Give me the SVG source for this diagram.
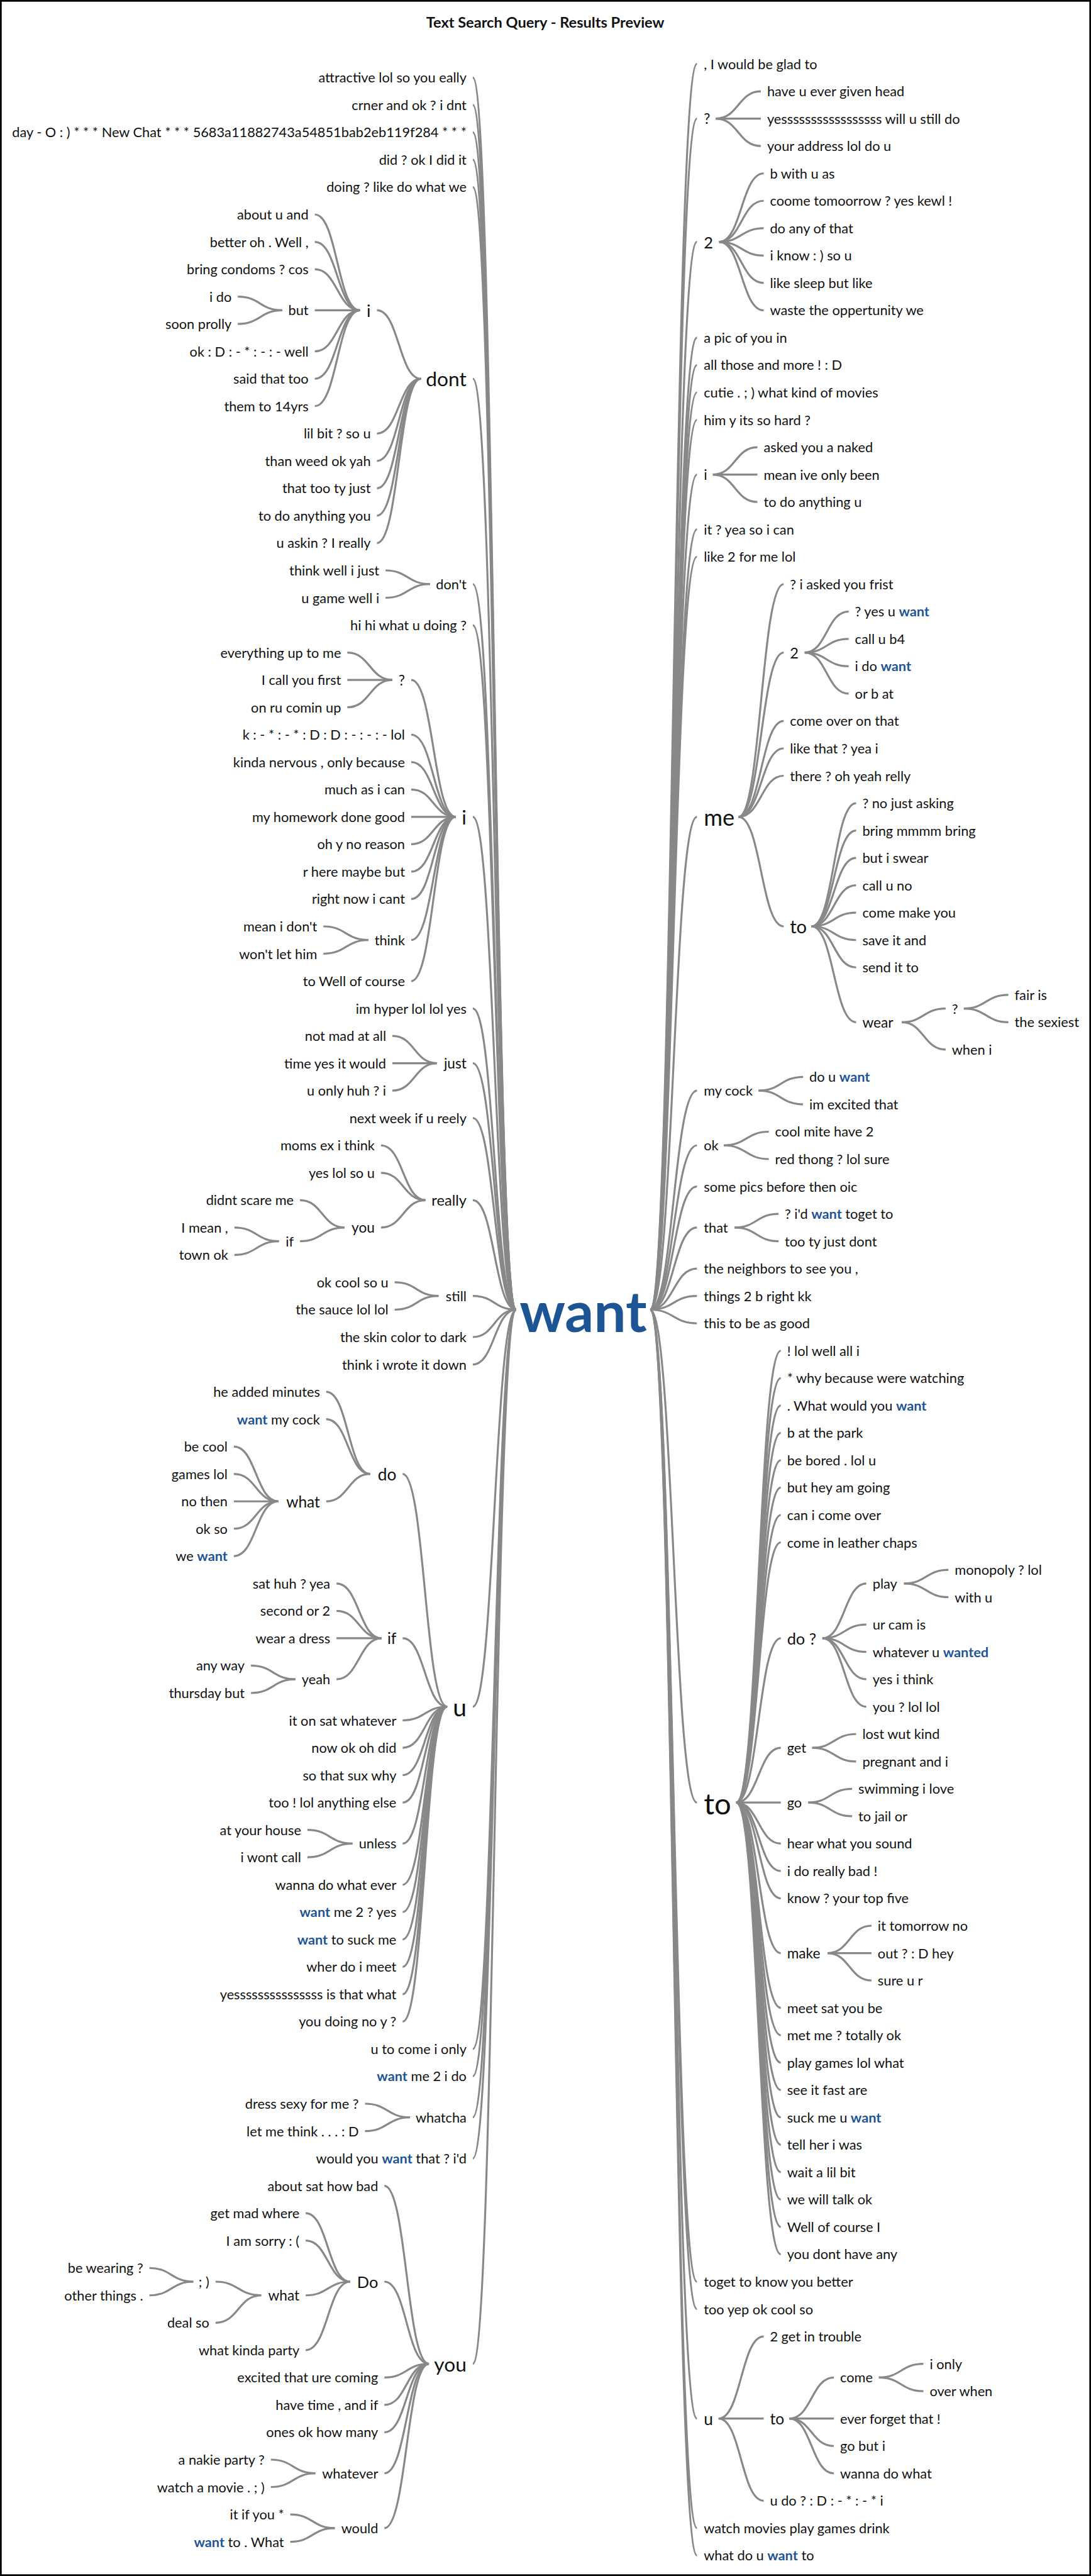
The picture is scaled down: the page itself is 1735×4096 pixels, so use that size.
<svg xmlns="http://www.w3.org/2000/svg" width="1735" height="4096" viewBox="0 0 1735 4096">
<style>
text{font-family:Lato,"Open Sans","Liberation Sans",sans-serif;font-size:24px;fill:#111;dominant-baseline:central}
.e{text-anchor:end}
.hl{fill:#1c5494;font-weight:700}
.title{font-weight:700;font-size:26px;text-anchor:middle}
.root{font-size:100px;font-weight:700;fill:#1c5494;text-anchor:middle}
.s25{font-size:25px}.s26{font-size:26px}.s27{font-size:27px}.s28{font-size:28px}.s29{font-size:29px}.s30{font-size:30px}.s32{font-size:32px}.s35{font-size:35px}.s40{font-size:40px}.s43{font-size:43px}.s52{font-size:52px}
#connectors path{fill:none;stroke:#888;stroke-width:3.5}
</style>
<rect x="0" y="0" width="1735" height="4096" fill="#fff"/>
<g transform="scale(0.907)">
<rect x="1.5" y="1.5" width="1910" height="4513" fill="none" stroke="#000" stroke-width="3"/>
<text class="title" x="956" y="39">Text Search Query - Results Preview</text>
<g id="connectors">
<path d="M829 136C867 136 867 2296 905 2296"/>
<path d="M829 184C867 184 867 2296 905 2296"/>
<path d="M829 232C867 232 867 2296 905 2296"/>
<path d="M829 280C867 280 867 2296 905 2296"/>
<path d="M829 328C867 328 867 2296 905 2296"/>
<path d="M829 664C867 664 867 2296 905 2296"/>
<path d="M829 1024C867 1024 867 2296 905 2296"/>
<path d="M829 1096C867 1096 867 2296 905 2296"/>
<path d="M829 1432C867 1432 867 2296 905 2296"/>
<path d="M829 1768C867 1768 867 2296 905 2296"/>
<path d="M829 1864C867 1864 867 2296 905 2296"/>
<path d="M829 1960C867 1960 867 2296 905 2296"/>
<path d="M829 2104C867 2104 867 2296 905 2296"/>
<path d="M829 2272C867 2272 867 2296 905 2296"/>
<path d="M829 2344C867 2344 867 2296 905 2296"/>
<path d="M829 2392C867 2392 867 2296 905 2296"/>
<path d="M829 2992C867 2992 867 2296 905 2296"/>
<path d="M829 3592C867 3592 867 2296 905 2296"/>
<path d="M829 3640C867 3640 867 2296 905 2296"/>
<path d="M829 3712C867 3712 867 2296 905 2296"/>
<path d="M829 3784C867 3784 867 2296 905 2296"/>
<path d="M829 4144C867 4144 867 2296 905 2296"/>
<path d="M661 544C699.5 544 699.5 664 738 664"/>
<path d="M661 760C699.5 760 699.5 664 738 664"/>
<path d="M661 808C699.5 808 699.5 664 738 664"/>
<path d="M661 856C699.5 856 699.5 664 738 664"/>
<path d="M661 904C699.5 904 699.5 664 738 664"/>
<path d="M661 952C699.5 952 699.5 664 738 664"/>
<path d="M552 376C591.5 376 591.5 544 631 544"/>
<path d="M552 424C591.5 424 591.5 544 631 544"/>
<path d="M552 472C591.5 472 591.5 544 631 544"/>
<path d="M552 544C591.5 544 591.5 544 631 544"/>
<path d="M552 616C591.5 616 591.5 544 631 544"/>
<path d="M552 664C591.5 664 591.5 544 631 544"/>
<path d="M552 712C591.5 712 591.5 544 631 544"/>
<path d="M417 520C456 520 456 544 495 544"/>
<path d="M417 568C456 568 456 544 495 544"/>
<path d="M676 1000C715 1000 715 1024 754 1024"/>
<path d="M676 1048C715 1048 715 1024 754 1024"/>
<path d="M721 1192C760 1192 760 1432 799 1432"/>
<path d="M721 1288C760 1288 760 1432 799 1432"/>
<path d="M721 1336C760 1336 760 1432 799 1432"/>
<path d="M721 1384C760 1384 760 1432 799 1432"/>
<path d="M721 1432C760 1432 760 1432 799 1432"/>
<path d="M721 1480C760 1480 760 1432 799 1432"/>
<path d="M721 1528C760 1528 760 1432 799 1432"/>
<path d="M721 1576C760 1576 760 1432 799 1432"/>
<path d="M721 1648C760 1648 760 1432 799 1432"/>
<path d="M721 1720C760 1720 760 1432 799 1432"/>
<path d="M609 1144C648.5 1144 648.5 1192 688 1192"/>
<path d="M609 1192C648.5 1192 648.5 1192 688 1192"/>
<path d="M609 1240C648.5 1240 648.5 1192 688 1192"/>
<path d="M567 1624C606.5 1624 606.5 1648 646 1648"/>
<path d="M567 1672C606.5 1672 606.5 1648 646 1648"/>
<path d="M688 1816C727 1816 727 1864 766 1864"/>
<path d="M688 1864C727 1864 727 1864 766 1864"/>
<path d="M688 1912C727 1912 727 1864 766 1864"/>
<path d="M668 2008C707 2008 707 2104 746 2104"/>
<path d="M668 2056C707 2056 707 2104 746 2104"/>
<path d="M668 2152C707 2152 707 2104 746 2104"/>
<path d="M526 2104C565 2104 565 2152 604 2152"/>
<path d="M526 2176C565 2176 565 2152 604 2152"/>
<path d="M411 2152C450 2152 450 2176 489 2176"/>
<path d="M411 2200C450 2200 450 2176 489 2176"/>
<path d="M692 2248C730.5 2248 730.5 2272 769 2272"/>
<path d="M692 2296C730.5 2296 730.5 2272 769 2272"/>
<path d="M706 2584C745 2584 745 2992 784 2992"/>
<path d="M706 2872C745 2872 745 2992 784 2992"/>
<path d="M706 3016C745 3016 745 2992 784 2992"/>
<path d="M706 3064C745 3064 745 2992 784 2992"/>
<path d="M706 3112C745 3112 745 2992 784 2992"/>
<path d="M706 3160C745 3160 745 2992 784 2992"/>
<path d="M706 3232C745 3232 745 2992 784 2992"/>
<path d="M706 3304C745 3304 745 2992 784 2992"/>
<path d="M706 3352C745 3352 745 2992 784 2992"/>
<path d="M706 3400C745 3400 745 2992 784 2992"/>
<path d="M706 3448C745 3448 745 2992 784 2992"/>
<path d="M706 3496C745 3496 745 2992 784 2992"/>
<path d="M706 3544C745 3544 745 2992 784 2992"/>
<path d="M572 2440C610.5 2440 610.5 2584 649 2584"/>
<path d="M572 2488C610.5 2488 610.5 2584 649 2584"/>
<path d="M572 2632C610.5 2632 610.5 2584 649 2584"/>
<path d="M410 2536C449 2536 449 2632 488 2632"/>
<path d="M410 2584C449 2584 449 2632 488 2632"/>
<path d="M410 2632C449 2632 449 2632 488 2632"/>
<path d="M410 2680C449 2680 449 2632 488 2632"/>
<path d="M410 2728C449 2728 449 2632 488 2632"/>
<path d="M590 2776C629.5 2776 629.5 2872 669 2872"/>
<path d="M590 2824C629.5 2824 629.5 2872 669 2872"/>
<path d="M590 2872C629.5 2872 629.5 2872 669 2872"/>
<path d="M590 2944C629.5 2944 629.5 2872 669 2872"/>
<path d="M440 2920C479 2920 479 2944 518 2944"/>
<path d="M440 2968C479 2968 479 2944 518 2944"/>
<path d="M539 3208C578.5 3208 578.5 3232 618 3232"/>
<path d="M539 3256C578.5 3256 578.5 3232 618 3232"/>
<path d="M640 3688C679.5 3688 679.5 3712 719 3712"/>
<path d="M640 3736C679.5 3736 679.5 3712 719 3712"/>
<path d="M674 3832C713 3832 713 4144 752 4144"/>
<path d="M674 4000C713 4000 713 4144 752 4144"/>
<path d="M674 4168C713 4168 713 4144 752 4144"/>
<path d="M674 4216C713 4216 713 4144 752 4144"/>
<path d="M674 4264C713 4264 713 4144 752 4144"/>
<path d="M674 4336C713 4336 713 4144 752 4144"/>
<path d="M674 4432C713 4432 713 4144 752 4144"/>
<path d="M536 3880C575 3880 575 4000 614 4000"/>
<path d="M536 3928C575 3928 575 4000 614 4000"/>
<path d="M536 4024C575 4024 575 4000 614 4000"/>
<path d="M536 4120C575 4120 575 4000 614 4000"/>
<path d="M378 4000C418 4000 418 4024 458 4024"/>
<path d="M378 4072C418 4072 418 4024 458 4024"/>
<path d="M262 3976C300.5 3976 300.5 4000 339 4000"/>
<path d="M262 4024C300.5 4024 300.5 4000 339 4000"/>
<path d="M475 4312C514 4312 514 4336 553 4336"/>
<path d="M475 4360C514 4360 514 4336 553 4336"/>
<path d="M509 4408C548 4408 548 4432 587 4432"/>
<path d="M509 4456C548 4456 548 4432 587 4432"/>
<path d="M1140 2296C1181 2296 1181 112 1222 112"/>
<path d="M1140 2296C1181 2296 1181 208 1222 208"/>
<path d="M1140 2296C1181 2296 1181 424 1222 424"/>
<path d="M1140 2296C1181 2296 1181 592 1222 592"/>
<path d="M1140 2296C1181 2296 1181 640 1222 640"/>
<path d="M1140 2296C1181 2296 1181 688 1222 688"/>
<path d="M1140 2296C1181 2296 1181 736 1222 736"/>
<path d="M1140 2296C1181 2296 1181 832 1222 832"/>
<path d="M1140 2296C1181 2296 1181 928 1222 928"/>
<path d="M1140 2296C1181 2296 1181 976 1222 976"/>
<path d="M1140 2296C1181 2296 1181 1432 1222 1432"/>
<path d="M1140 2296C1181 2296 1181 1912 1222 1912"/>
<path d="M1140 2296C1181 2296 1181 2008 1222 2008"/>
<path d="M1140 2296C1181 2296 1181 2080 1222 2080"/>
<path d="M1140 2296C1181 2296 1181 2152 1222 2152"/>
<path d="M1140 2296C1181 2296 1181 2224 1222 2224"/>
<path d="M1140 2296C1181 2296 1181 2272 1222 2272"/>
<path d="M1140 2296C1181 2296 1181 2320 1222 2320"/>
<path d="M1140 2296C1181 2296 1181 3160 1222 3160"/>
<path d="M1140 2296C1181 2296 1181 4000 1222 4000"/>
<path d="M1140 2296C1181 2296 1181 4048 1222 4048"/>
<path d="M1140 2296C1181 2296 1181 4240 1222 4240"/>
<path d="M1140 2296C1181 2296 1181 4432 1222 4432"/>
<path d="M1140 2296C1181 2296 1181 4480 1222 4480"/>
<path d="M1255 208C1294.5 208 1294.5 160 1334 160"/>
<path d="M1255 208C1294.5 208 1294.5 208 1334 208"/>
<path d="M1255 208C1294.5 208 1294.5 256 1334 256"/>
<path d="M1261 424C1300 424 1300 304 1339 304"/>
<path d="M1261 424C1300 424 1300 352 1339 352"/>
<path d="M1261 424C1300 424 1300 400 1339 400"/>
<path d="M1261 424C1300 424 1300 448 1339 448"/>
<path d="M1261 424C1300 424 1300 496 1339 496"/>
<path d="M1261 424C1300 424 1300 544 1339 544"/>
<path d="M1250 832C1289 832 1289 784 1328 784"/>
<path d="M1250 832C1289 832 1289 832 1328 832"/>
<path d="M1250 832C1289 832 1289 880 1328 880"/>
<path d="M1295 1432C1334.5 1432 1334.5 1024 1374 1024"/>
<path d="M1295 1432C1334.5 1432 1334.5 1144 1374 1144"/>
<path d="M1295 1432C1334.5 1432 1334.5 1264 1374 1264"/>
<path d="M1295 1432C1334.5 1432 1334.5 1312 1374 1312"/>
<path d="M1295 1432C1334.5 1432 1334.5 1360 1374 1360"/>
<path d="M1295 1432C1334.5 1432 1334.5 1624 1374 1624"/>
<path d="M1411 1144C1449.5 1144 1449.5 1072 1488 1072"/>
<path d="M1411 1144C1449.5 1144 1449.5 1120 1488 1120"/>
<path d="M1411 1144C1449.5 1144 1449.5 1168 1488 1168"/>
<path d="M1411 1144C1449.5 1144 1449.5 1216 1488 1216"/>
<path d="M1423 1624C1462 1624 1462 1408 1501 1408"/>
<path d="M1423 1624C1462 1624 1462 1456 1501 1456"/>
<path d="M1423 1624C1462 1624 1462 1504 1501 1504"/>
<path d="M1423 1624C1462 1624 1462 1552 1501 1552"/>
<path d="M1423 1624C1462 1624 1462 1600 1501 1600"/>
<path d="M1423 1624C1462 1624 1462 1648 1501 1648"/>
<path d="M1423 1624C1462 1624 1462 1696 1501 1696"/>
<path d="M1423 1624C1462 1624 1462 1792 1501 1792"/>
<path d="M1581 1792C1619.5 1792 1619.5 1768 1658 1768"/>
<path d="M1581 1792C1619.5 1792 1619.5 1840 1658 1840"/>
<path d="M1690 1768C1729 1768 1729 1744 1768 1744"/>
<path d="M1690 1768C1729 1768 1729 1792 1768 1792"/>
<path d="M1330 1912C1369 1912 1369 1888 1408 1888"/>
<path d="M1330 1912C1369 1912 1369 1936 1408 1936"/>
<path d="M1269 2008C1308.5 2008 1308.5 1984 1348 1984"/>
<path d="M1269 2008C1308.5 2008 1308.5 2032 1348 2032"/>
<path d="M1288 2152C1326.5 2152 1326.5 2128 1365 2128"/>
<path d="M1288 2152C1326.5 2152 1326.5 2176 1365 2176"/>
<path d="M1291 3160C1330 3160 1330 2368 1369 2368"/>
<path d="M1291 3160C1330 3160 1330 2416 1369 2416"/>
<path d="M1291 3160C1330 3160 1330 2464 1369 2464"/>
<path d="M1291 3160C1330 3160 1330 2512 1369 2512"/>
<path d="M1291 3160C1330 3160 1330 2560 1369 2560"/>
<path d="M1291 3160C1330 3160 1330 2608 1369 2608"/>
<path d="M1291 3160C1330 3160 1330 2656 1369 2656"/>
<path d="M1291 3160C1330 3160 1330 2704 1369 2704"/>
<path d="M1291 3160C1330 3160 1330 2872 1369 2872"/>
<path d="M1291 3160C1330 3160 1330 3064 1369 3064"/>
<path d="M1291 3160C1330 3160 1330 3160 1369 3160"/>
<path d="M1291 3160C1330 3160 1330 3232 1369 3232"/>
<path d="M1291 3160C1330 3160 1330 3280 1369 3280"/>
<path d="M1291 3160C1330 3160 1330 3328 1369 3328"/>
<path d="M1291 3160C1330 3160 1330 3424 1369 3424"/>
<path d="M1291 3160C1330 3160 1330 3520 1369 3520"/>
<path d="M1291 3160C1330 3160 1330 3568 1369 3568"/>
<path d="M1291 3160C1330 3160 1330 3616 1369 3616"/>
<path d="M1291 3160C1330 3160 1330 3664 1369 3664"/>
<path d="M1291 3160C1330 3160 1330 3712 1369 3712"/>
<path d="M1291 3160C1330 3160 1330 3760 1369 3760"/>
<path d="M1291 3160C1330 3160 1330 3808 1369 3808"/>
<path d="M1291 3160C1330 3160 1330 3856 1369 3856"/>
<path d="M1291 3160C1330 3160 1330 3904 1369 3904"/>
<path d="M1291 3160C1330 3160 1330 3952 1369 3952"/>
<path d="M1442 2872C1480.5 2872 1480.5 2776 1519 2776"/>
<path d="M1442 2872C1480.5 2872 1480.5 2848 1519 2848"/>
<path d="M1442 2872C1480.5 2872 1480.5 2896 1519 2896"/>
<path d="M1442 2872C1480.5 2872 1480.5 2944 1519 2944"/>
<path d="M1442 2872C1480.5 2872 1480.5 2992 1519 2992"/>
<path d="M1585 2776C1624 2776 1624 2752 1663 2752"/>
<path d="M1585 2776C1624 2776 1624 2800 1663 2800"/>
<path d="M1424 3064C1462.5 3064 1462.5 3040 1501 3040"/>
<path d="M1424 3064C1462.5 3064 1462.5 3088 1501 3088"/>
<path d="M1417 3160C1455.5 3160 1455.5 3136 1494 3136"/>
<path d="M1417 3160C1455.5 3160 1455.5 3184 1494 3184"/>
<path d="M1451 3424C1489.5 3424 1489.5 3376 1528 3376"/>
<path d="M1451 3424C1489.5 3424 1489.5 3424 1528 3424"/>
<path d="M1451 3424C1489.5 3424 1489.5 3472 1528 3472"/>
<path d="M1260 4240C1299.5 4240 1299.5 4096 1339 4096"/>
<path d="M1260 4240C1299.5 4240 1299.5 4240 1339 4240"/>
<path d="M1260 4240C1299.5 4240 1299.5 4384 1339 4384"/>
<path d="M1384 4240C1423 4240 1423 4168 1462 4168"/>
<path d="M1384 4240C1423 4240 1423 4240 1462 4240"/>
<path d="M1384 4240C1423 4240 1423 4288 1462 4288"/>
<path d="M1384 4240C1423 4240 1423 4336 1462 4336"/>
<path d="M1541 4168C1580 4168 1580 4144 1619 4144"/>
<path d="M1541 4168C1580 4168 1580 4192 1619 4192"/>
</g>
<g id="root"><text class="root" x="1022.5" y="2296">want</text></g>
<g id="L01"><text class="e" x="818" y="136">attractive lol so you eally</text></g>
<g id="L02"><text class="e" x="818" y="184">crner and ok ? i dnt</text></g>
<g id="L03"><text class="e" x="818" y="232">day - O : ) * * * New Chat * * * 5683a11882743a54851bab2eb119f284 * * *</text></g>
<g id="L04"><text class="e" x="818" y="280">did ? ok I did it</text></g>
<g id="L05"><text class="e" x="818" y="328">doing ? like do what we</text></g>
<g id="N-dont"><text class="e s35" x="818" y="664">dont</text></g>
<g id="N-dont-i"><text class="e s30" x="650" y="544">i</text></g>
<g id="L06"><text class="e" x="541" y="376">about u and</text></g>
<g id="L07"><text class="e" x="541" y="424">better oh . Well ,</text></g>
<g id="L08"><text class="e" x="541" y="472">bring condoms ? cos</text></g>
<g id="N-but"><text class="e" x="541" y="544">but</text></g>
<g id="L09"><text class="e" x="406" y="520">i do</text></g>
<g id="L10"><text class="e" x="406" y="568">soon prolly</text></g>
<g id="L11"><text class="e" x="541" y="616">ok : D : - * : - : - well</text></g>
<g id="L12"><text class="e" x="541" y="664">said that too</text></g>
<g id="L13"><text class="e" x="541" y="712">them to 14yrs</text></g>
<g id="L14"><text class="e" x="650" y="760">lil bit ? so u</text></g>
<g id="L15"><text class="e" x="650" y="808">than weed ok yah</text></g>
<g id="L16"><text class="e" x="650" y="856">that too ty just</text></g>
<g id="L17"><text class="e" x="650" y="904">to do anything you</text></g>
<g id="L18"><text class="e" x="650" y="952">u askin ? I really</text></g>
<g id="N-dont2"><text class="e" x="818" y="1024">don't</text></g>
<g id="L19"><text class="e" x="665" y="1000">think well i just</text></g>
<g id="L20"><text class="e" x="665" y="1048">u game well i</text></g>
<g id="L21"><text class="e" x="818" y="1096">hi hi what u doing ?</text></g>
<g id="N-i"><text class="e s35" x="818" y="1432">i</text></g>
<g id="N-i-q"><text class="e s25" x="710" y="1192">?</text></g>
<g id="L22"><text class="e" x="598" y="1144">everything up to me</text></g>
<g id="L23"><text class="e" x="598" y="1192">I call you first</text></g>
<g id="L24"><text class="e" x="598" y="1240">on ru comin up</text></g>
<g id="L25"><text class="e" x="710" y="1288">k : - * : - * : D : D : - : - : - lol</text></g>
<g id="L26"><text class="e" x="710" y="1336">kinda nervous , only because</text></g>
<g id="L27"><text class="e" x="710" y="1384">much as i can</text></g>
<g id="L28"><text class="e" x="710" y="1432">my homework done good</text></g>
<g id="L29"><text class="e" x="710" y="1480">oh y no reason</text></g>
<g id="L30"><text class="e" x="710" y="1528">r here maybe but</text></g>
<g id="L31"><text class="e" x="710" y="1576">right now i cant</text></g>
<g id="N-think"><text class="e" x="710" y="1648">think</text></g>
<g id="L32"><text class="e" x="556" y="1624">mean i don't</text></g>
<g id="L33"><text class="e" x="556" y="1672">won't let him</text></g>
<g id="L34"><text class="e" x="710" y="1720">to Well of course</text></g>
<g id="L35"><text class="e" x="818" y="1768">im hyper lol lol yes</text></g>
<g id="N-just"><text class="e s25" x="818" y="1864">just</text></g>
<g id="L36"><text class="e" x="677" y="1816">not mad at all</text></g>
<g id="L37"><text class="e" x="677" y="1864">time yes it would</text></g>
<g id="L38"><text class="e" x="677" y="1912">u only huh ? i</text></g>
<g id="L39"><text class="e" x="818" y="1960">next week if u reely</text></g>
<g id="N-really"><text class="e s26" x="818" y="2104">really</text></g>
<g id="L40"><text class="e" x="657" y="2008">moms ex i think</text></g>
<g id="L41"><text class="e" x="657" y="2056">yes lol so u</text></g>
<g id="N-really-you"><text class="e s25" x="657" y="2152">you</text></g>
<g id="L42"><text class="e" x="515" y="2104">didnt scare me</text></g>
<g id="N-really-if"><text class="e" x="515" y="2176">if</text></g>
<g id="L43"><text class="e" x="400" y="2152">I mean ,</text></g>
<g id="L44"><text class="e" x="400" y="2200">town ok</text></g>
<g id="N-still"><text class="e" x="818" y="2272">still</text></g>
<g id="L45"><text class="e" x="681" y="2248">ok cool so u</text></g>
<g id="L46"><text class="e" x="681" y="2296">the sauce lol lol</text></g>
<g id="L47"><text class="e" x="818" y="2344">the skin color to dark</text></g>
<g id="L48"><text class="e" x="818" y="2392">think i wrote it down</text></g>
<g id="N-u"><text class="e s43" x="818" y="2992">u</text></g>
<g id="N-u-do"><text class="e s29" x="695" y="2584">do</text></g>
<g id="L49"><text class="e" x="561" y="2440">he added minutes</text></g>
<g id="L50"><text class="e" x="561" y="2488"><tspan class="hl">want</tspan> my cock</text></g>
<g id="N-u-do-what"><text class="e s27" x="561" y="2632">what</text></g>
<g id="L51"><text class="e" x="399" y="2536">be cool</text></g>
<g id="L52"><text class="e" x="399" y="2584">games lol</text></g>
<g id="L53"><text class="e" x="399" y="2632">no then</text></g>
<g id="L54"><text class="e" x="399" y="2680">ok so</text></g>
<g id="L55"><text class="e" x="399" y="2728">we <tspan class="hl">want</tspan></text></g>
<g id="N-u-if"><text class="e s27" x="695" y="2872">if</text></g>
<g id="L56"><text class="e" x="579" y="2776">sat huh ? yea</text></g>
<g id="L57"><text class="e" x="579" y="2824">second or 2</text></g>
<g id="L58"><text class="e" x="579" y="2872">wear a dress</text></g>
<g id="N-u-if-yeah"><text class="e" x="579" y="2944">yeah</text></g>
<g id="L59"><text class="e" x="429" y="2920">any way</text></g>
<g id="L60"><text class="e" x="429" y="2968">thursday but</text></g>
<g id="L61"><text class="e" x="695" y="3016">it on sat whatever</text></g>
<g id="L62"><text class="e" x="695" y="3064">now ok oh did</text></g>
<g id="L63"><text class="e" x="695" y="3112">so that sux why</text></g>
<g id="L64"><text class="e" x="695" y="3160">too ! lol anything else</text></g>
<g id="N-u-unless"><text class="e" x="695" y="3232">unless</text></g>
<g id="L65"><text class="e" x="528" y="3208">at your house</text></g>
<g id="L66"><text class="e" x="528" y="3256">i wont call</text></g>
<g id="L67"><text class="e" x="695" y="3304">wanna do what ever</text></g>
<g id="L68"><text class="e" x="695" y="3352"><tspan class="hl">want</tspan> me 2 ? yes</text></g>
<g id="L69"><text class="e" x="695" y="3400"><tspan class="hl">want</tspan> to suck me</text></g>
<g id="L70"><text class="e" x="695" y="3448">wher do i meet</text></g>
<g id="L71"><text class="e" x="695" y="3496">yesssssssssssssss is that what</text></g>
<g id="L72"><text class="e" x="695" y="3544">you doing no y ?</text></g>
<g id="L73"><text class="e" x="818" y="3592">u to come i only</text></g>
<g id="L74"><text class="e" x="818" y="3640"><tspan class="hl">want</tspan> me 2 i do</text></g>
<g id="N-whatcha"><text class="e" x="818" y="3712">whatcha</text></g>
<g id="L75"><text class="e" x="629" y="3688">dress sexy for me ?</text></g>
<g id="L76"><text class="e" x="629" y="3736">let me think . . . : D</text></g>
<g id="L77"><text class="e" x="818" y="3784">would you <tspan class="hl">want</tspan> that ? i'd</text></g>
<g id="N-you"><text class="e s35" x="818" y="4144">you</text></g>
<g id="L78"><text class="e" x="663" y="3832">about sat how bad</text></g>
<g id="N-you-Do"><text class="e s28" x="663" y="4000">Do</text></g>
<g id="L79"><text class="e" x="525" y="3880">get mad where</text></g>
<g id="L80"><text class="e" x="525" y="3928">I am sorry : (</text></g>
<g id="N-you-Do-what"><text class="e s25" x="525" y="4024">what</text></g>
<g id="N-wink"><text class="e" x="367" y="4000">; )</text></g>
<g id="L81"><text class="e" x="251" y="3976">be wearing ?</text></g>
<g id="L82"><text class="e" x="251" y="4024">other things .</text></g>
<g id="L83"><text class="e" x="367" y="4072">deal so</text></g>
<g id="L84"><text class="e" x="525" y="4120">what kinda party</text></g>
<g id="L85"><text class="e" x="663" y="4168">excited that ure coming</text></g>
<g id="L86"><text class="e" x="663" y="4216">have time , and if</text></g>
<g id="L87"><text class="e" x="663" y="4264">ones ok how many</text></g>
<g id="N-whatever"><text class="e" x="663" y="4336">whatever</text></g>
<g id="L88"><text class="e" x="464" y="4312">a nakie party ?</text></g>
<g id="L89"><text class="e" x="464" y="4360">watch a movie . ; )</text></g>
<g id="N-would"><text class="e" x="663" y="4432">would</text></g>
<g id="L90"><text class="e" x="498" y="4408">it if you *</text></g>
<g id="L91"><text class="e" x="498" y="4456"><tspan class="hl">want</tspan> to . What</text></g>
<g id="R01"><text x="1234" y="112">, I would be glad to</text></g>
<g id="M-q"><text class="s25" x="1234" y="208">?</text></g>
<g id="R02"><text x="1345" y="160">have u ever given head</text></g>
<g id="R03"><text x="1345" y="208">yesssssssssssssssss will u still do</text></g>
<g id="R04"><text x="1345" y="256">your address lol do u</text></g>
<g id="M-2"><text class="s28" x="1234" y="424">2</text></g>
<g id="R05"><text x="1350" y="304">b with u as</text></g>
<g id="R06"><text x="1350" y="352">coome tomoorrow ? yes kewl !</text></g>
<g id="R07"><text x="1350" y="400">do any of that</text></g>
<g id="R08"><text x="1350" y="448">i know : ) so u</text></g>
<g id="R09"><text x="1350" y="496">like sleep but like</text></g>
<g id="R10"><text x="1350" y="544">waste the oppertunity we</text></g>
<g id="R11"><text x="1234" y="592">a pic of you in</text></g>
<g id="R12"><text x="1234" y="640">all those and more ! : D</text></g>
<g id="R13"><text x="1234" y="688">cutie . ; ) what kind of movies</text></g>
<g id="R14"><text x="1234" y="736">him y its so hard ?</text></g>
<g id="M-i"><text class="s25" x="1234" y="832">i</text></g>
<g id="R15"><text x="1339" y="784">asked you a naked</text></g>
<g id="R16"><text x="1339" y="832">mean ive only been</text></g>
<g id="R17"><text x="1339" y="880">to do anything u</text></g>
<g id="R18"><text x="1234" y="928">it ? yea so i can</text></g>
<g id="R19"><text x="1234" y="976">like 2 for me lol</text></g>
<g id="M-me"><text class="s40" x="1234" y="1432">me</text></g>
<g id="R20"><text x="1385" y="1024">? i asked you frist</text></g>
<g id="M-me-2"><text class="s26" x="1385" y="1144">2</text></g>
<g id="R21"><text x="1499" y="1072">? yes u <tspan class="hl">want</tspan></text></g>
<g id="R22"><text x="1499" y="1120">call u b4</text></g>
<g id="R23"><text x="1499" y="1168">i do <tspan class="hl">want</tspan></text></g>
<g id="R24"><text x="1499" y="1216">or b at</text></g>
<g id="R25"><text x="1385" y="1264">come over on that</text></g>
<g id="R26"><text x="1385" y="1312">like that ? yea i</text></g>
<g id="R27"><text x="1385" y="1360">there ? oh yeah relly</text></g>
<g id="M-me-to"><text class="s32" x="1385" y="1624">to</text></g>
<g id="R28"><text x="1512" y="1408">? no just asking</text></g>
<g id="R29"><text x="1512" y="1456">bring mmmm bring</text></g>
<g id="R30"><text x="1512" y="1504">but i swear</text></g>
<g id="R31"><text x="1512" y="1552">call u no</text></g>
<g id="R32"><text x="1512" y="1600">come make you</text></g>
<g id="R33"><text x="1512" y="1648">save it and</text></g>
<g id="R34"><text x="1512" y="1696">send it to</text></g>
<g id="M-wear"><text class="s25" x="1512" y="1792">wear</text></g>
<g id="M-wear-q"><text x="1669" y="1768">?</text></g>
<g id="R35"><text x="1779" y="1744">fair is</text></g>
<g id="R36"><text x="1779" y="1792">the sexiest</text></g>
<g id="R37"><text x="1669" y="1840">when i</text></g>
<g id="M-mycock"><text x="1234" y="1912">my cock</text></g>
<g id="R38"><text x="1419" y="1888">do u <tspan class="hl">want</tspan></text></g>
<g id="R39"><text x="1419" y="1936">im excited that</text></g>
<g id="M-ok"><text x="1234" y="2008">ok</text></g>
<g id="R40"><text x="1359" y="1984">cool mite have 2</text></g>
<g id="R41"><text x="1359" y="2032">red thong ? lol sure</text></g>
<g id="R42"><text x="1234" y="2080">some pics before then oic</text></g>
<g id="M-that"><text x="1234" y="2152">that</text></g>
<g id="R43"><text x="1376" y="2128">? i'd <tspan class="hl">want</tspan> toget to</text></g>
<g id="R44"><text x="1376" y="2176">too ty just dont</text></g>
<g id="R45"><text x="1234" y="2224">the neighbors to see you ,</text></g>
<g id="R46"><text x="1234" y="2272">things 2 b right kk</text></g>
<g id="R47"><text x="1234" y="2320">this to be as good</text></g>
<g id="M-to"><text class="s52" x="1234" y="3160">to</text></g>
<g id="R48"><text x="1380" y="2368">! lol well all i</text></g>
<g id="R49"><text x="1380" y="2416">* why because were watching</text></g>
<g id="R50"><text x="1380" y="2464">. What would you <tspan class="hl">want</tspan></text></g>
<g id="R51"><text x="1380" y="2512">b at the park</text></g>
<g id="R52"><text x="1380" y="2560">be bored . lol u</text></g>
<g id="R53"><text x="1380" y="2608">but hey am going</text></g>
<g id="R54"><text x="1380" y="2656">can i come over</text></g>
<g id="R55"><text x="1380" y="2704">come in leather chaps</text></g>
<g id="M-to-do"><text class="s28" x="1380" y="2872">do ?</text></g>
<g id="M-play"><text x="1530" y="2776">play</text></g>
<g id="R56"><text x="1674" y="2752">monopoly ? lol</text></g>
<g id="R57"><text x="1674" y="2800">with u</text></g>
<g id="R58"><text x="1530" y="2848">ur cam is</text></g>
<g id="R59"><text x="1530" y="2896">whatever u <tspan class="hl">wanted</tspan></text></g>
<g id="R60"><text x="1530" y="2944">yes i think</text></g>
<g id="R61"><text x="1530" y="2992">you ? lol lol</text></g>
<g id="M-get"><text x="1380" y="3064">get</text></g>
<g id="R62"><text x="1512" y="3040">lost wut kind</text></g>
<g id="R63"><text x="1512" y="3088">pregnant and i</text></g>
<g id="M-go"><text x="1380" y="3160">go</text></g>
<g id="R64"><text x="1505" y="3136">swimming i love</text></g>
<g id="R65"><text x="1505" y="3184">to jail or</text></g>
<g id="R66"><text x="1380" y="3232">hear what you sound</text></g>
<g id="R67"><text x="1380" y="3280">i do really bad !</text></g>
<g id="R68"><text x="1380" y="3328">know ? your top five</text></g>
<g id="M-make"><text class="s25" x="1380" y="3424">make</text></g>
<g id="R69"><text x="1539" y="3376">it tomorrow no</text></g>
<g id="R70"><text x="1539" y="3424">out ? : D hey</text></g>
<g id="R71"><text x="1539" y="3472">sure u r</text></g>
<g id="R72"><text x="1380" y="3520">meet sat you be</text></g>
<g id="R73"><text x="1380" y="3568">met me ? totally ok</text></g>
<g id="R74"><text x="1380" y="3616">play games lol what</text></g>
<g id="R75"><text x="1380" y="3664">see it fast are</text></g>
<g id="R76"><text x="1380" y="3712">suck me u <tspan class="hl">want</tspan></text></g>
<g id="R77"><text x="1380" y="3760">tell her i was</text></g>
<g id="R78"><text x="1380" y="3808">wait a lil bit</text></g>
<g id="R79"><text x="1380" y="3856">we will talk ok</text></g>
<g id="R80"><text x="1380" y="3904">Well of course I</text></g>
<g id="R81"><text x="1380" y="3952">you dont have any</text></g>
<g id="R82"><text x="1234" y="4000">toget to know you better</text></g>
<g id="R83"><text x="1234" y="4048">too yep ok cool so</text></g>
<g id="M-u"><text class="s29" x="1234" y="4240">u</text></g>
<g id="R84"><text x="1350" y="4096">2 get in trouble</text></g>
<g id="M-u-to"><text class="s27" x="1350" y="4240">to</text></g>
<g id="M-come"><text x="1473" y="4168">come</text></g>
<g id="R85"><text x="1630" y="4144">i only</text></g>
<g id="R86"><text x="1630" y="4192">over when</text></g>
<g id="R87"><text x="1473" y="4240">ever forget that !</text></g>
<g id="R88"><text x="1473" y="4288">go but i</text></g>
<g id="R89"><text x="1473" y="4336">wanna do what</text></g>
<g id="R90"><text x="1350" y="4384">u do ? : D : - * : - * i</text></g>
<g id="R91"><text x="1234" y="4432">watch movies play games drink</text></g>
<g id="R92"><text x="1234" y="4480">what do u <tspan class="hl">want</tspan> to</text></g>
</g>
</svg>
